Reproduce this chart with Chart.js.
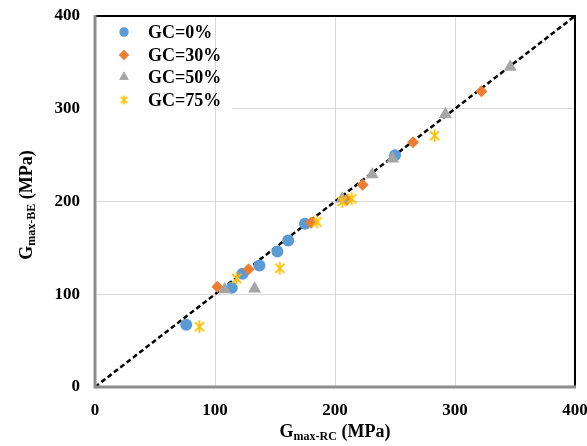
<!DOCTYPE html>
<html>
<head>
<meta charset="utf-8">
<script src="https://cdn.jsdelivr.net/npm/chart.js@4/dist/chart.umd.min.js"></script>
<style>
html,body{margin:0;padding:0;background:#fff;}
#c{display:block;}
</style>
</head>
<body>
<canvas id="c" width="587" height="446"></canvas>
<script>
// ---- data ----
const seriesNames = ['GC=0%', 'GC=30%', 'GC=50%', 'GC=75%'];
const gc0X  = [76, 114, 123, 137, 152, 161, 175, 250];
const gc0Y  = [67, 107, 122, 131, 146, 158, 176, 250];
const gc30X = [102, 128, 180, 210, 223, 265, 322];
const gc30Y = [108, 127, 177, 202, 218, 264, 319];
const gc50X = [108, 133, 206, 231, 248, 292, 346];
const gc50Y = [105, 106, 203, 229, 246, 294, 345];
const gc75X = [87, 118, 154, 185, 206, 214, 283];
const gc75Y = [65, 117, 128, 178, 200, 203, 271];
const lineX = [0, 400];
const lineY = [0, 400];
const tickValues = [0, 100, 200, 300, 400];

const toPts = (xs, ys) => xs.map((x, i) => ({x: x, y: ys[i]}));

const colors = ['#5B9BD5', '#ED7D31', '#A5A5A5', '#FFC000'];
const serif = '"Liberation Serif", "Times New Roman", serif';

function makeStar(size, color, lw) {
  const c = document.createElement('canvas');
  c.width = size; c.height = size;
  const g = c.getContext('2d');
  const m = size / 2, r = size / 2 - 1;
  g.strokeStyle = color; g.lineWidth = lw; g.lineCap = 'butt';
  g.beginPath();
  g.moveTo(m, m - r); g.lineTo(m, m + r);
  const d = r * Math.SQRT1_2;
  g.moveTo(m - d, m - d); g.lineTo(m + d, m + d);
  g.moveTo(m + d, m - d); g.lineTo(m - d, m + d);
  g.stroke();
  return c;
}
const starBig = makeStar(15, colors[3], 1.8);
const starSmall = makeStar(11, colors[3], 1.6);

const frameTitles = {
  id: 'frameTitles',
  beforeDatasetsDraw(chart) {
    const ctx = chart.ctx, a = chart.chartArea;
    const xs = chart.scales.x;
    ctx.save();
    ctx.fillStyle = '#fff';
    ctx.fillRect(a.left + 2, a.top + 2, 232 - a.left - 2, 111 - a.top - 2);
    ctx.strokeStyle = '#d9d9d9'; ctx.lineWidth = 1;
    const gx = Math.round(xs.getPixelForValue(100)) + 0.5;
    ctx.beginPath(); ctx.moveTo(gx, a.top); ctx.lineTo(gx, 111); ctx.stroke();
    ctx.restore();
  },
  afterDraw(chart) {
    const ctx = chart.ctx, a = chart.chartArea;
    ctx.save();
    // frame
    ctx.strokeStyle = '#000'; ctx.lineWidth = 2;
    ctx.beginPath();
    ctx.moveTo(a.left, a.top); ctx.lineTo(a.right, a.top); ctx.lineTo(a.right, a.bottom);
    ctx.stroke();
    ctx.strokeStyle = '#8c8c8c'; ctx.lineWidth = 3;
    ctx.beginPath();
    ctx.moveTo(a.left, a.top - 1); ctx.lineTo(a.left, a.bottom); ctx.lineTo(a.right + 1, a.bottom);
    ctx.stroke();

    // legend
    const lx = 124, ly = [32, 55, 77, 100];
    const styles = ['circle', 'rectRot', 'triangle', starSmall];
    const radii = [4.5, 5, 5.5, 5];
    for (let i = 0; i < 4; i++) {
      ctx.fillStyle = colors[i];
      ctx.strokeStyle = colors[i];
      Chart.helpers.drawPoint(ctx, {pointStyle: styles[i], radius: radii[i], borderWidth: 0, rotation: 0}, lx, ly[i]);
      if (styles[i] !== starSmall) ctx.fill();
      ctx.fillStyle = '#000';
      ctx.font = 'bold 18px ' + serif;
      ctx.textBaseline = 'middle';
      ctx.textAlign = 'left';
      ctx.fillText(seriesNames[i], 148, ly[i] + 1);
    }

    // axis titles with subscripts
    const big = 'bold 18px ' + serif, small = 'bold 12px ' + serif;
    function drawTitle(main, sub, rest) {
      ctx.font = big; const w1 = ctx.measureText(main).width;
      ctx.font = small; const w2 = ctx.measureText(sub).width;
      ctx.font = big; const w3 = ctx.measureText(rest).width;
      let x = -(w1 + w2 + w3) / 2;
      ctx.textAlign = 'left'; ctx.textBaseline = 'alphabetic'; ctx.fillStyle = '#000';
      ctx.font = big; ctx.fillText(main, x, 0); x += w1;
      ctx.font = small; ctx.fillText(sub, x, 3); x += w2;
      ctx.font = big; ctx.fillText(rest, x, 0);
    }
    ctx.save();
    ctx.translate((a.left + a.right) / 2, 437);
    drawTitle('G', 'max-RC', ' (MPa)');
    ctx.restore();
    ctx.save();
    ctx.translate(32, 205);
    ctx.rotate(-Math.PI / 2);
    drawTitle('G', 'max-BE', ' (MPa)');
    ctx.restore();
    ctx.restore();
  }
};

const tickFont = {family: serif, size: 17, weight: 'bold'};

new Chart(document.getElementById('c'), {
  type: 'scatter',
  data: {
    datasets: [
      {label: seriesNames[0], data: toPts(gc0X, gc0Y), pointStyle: 'circle', radius: 6, backgroundColor: colors[0], borderWidth: 0, order: 4},
      {label: seriesNames[1], data: toPts(gc30X, gc30Y), pointStyle: 'rectRot', radius: 6, backgroundColor: colors[1], borderWidth: 0, order: 3},
      {label: seriesNames[2], data: toPts(gc50X, gc50Y), pointStyle: 'triangle', radius: 7.5, backgroundColor: colors[2], borderWidth: 0, order: 2},
      {label: seriesNames[3], data: toPts(gc75X, gc75Y), pointStyle: starBig, radius: 7, backgroundColor: colors[3], borderColor: colors[3], borderWidth: 0, order: 1},
      {label: 'line', data: toPts(lineX, lineY), showLine: true, borderColor: '#000', borderWidth: 2.5, borderDash: [5, 3], pointRadius: 0, fill: false, order: 5}
    ]
  },
  options: {
    responsive: false,
    animation: false,
    events: [],
    layout: {padding: {left: 0, right: 12, top: 16, bottom: 0}},
    plugins: {legend: {display: false}, tooltip: {enabled: false}, title: {display: false}},
    scales: {
      x: {
        type: 'linear', min: 0, max: 400,
        afterBuildTicks: s => { s.ticks = tickValues.map(v => ({value: v})); },
        ticks: {font: tickFont, color: '#000', padding: 13, maxRotation: 0, autoSkip: false},
        grid: {color: '#d9d9d9', lineWidth: 1, drawTicks: false},
        border: {display: false},
        afterFit: s => { s.height = 59; s.paddingLeft = 0; s.paddingRight = 0; }
      },
      y: {
        type: 'linear', min: 0, max: 400,
        afterBuildTicks: s => { s.ticks = tickValues.map(v => ({value: v})); },
        ticks: {font: tickFont, color: '#000', padding: 15, autoSkip: false},
        grid: {color: '#d9d9d9', lineWidth: 1, drawTicks: false},
        border: {display: false},
        afterFit: s => { s.width = 95; s.paddingTop = 0; s.paddingBottom = 0; }
      }
    }
  },
  plugins: [frameTitles]
});
</script>
</body>
</html>
